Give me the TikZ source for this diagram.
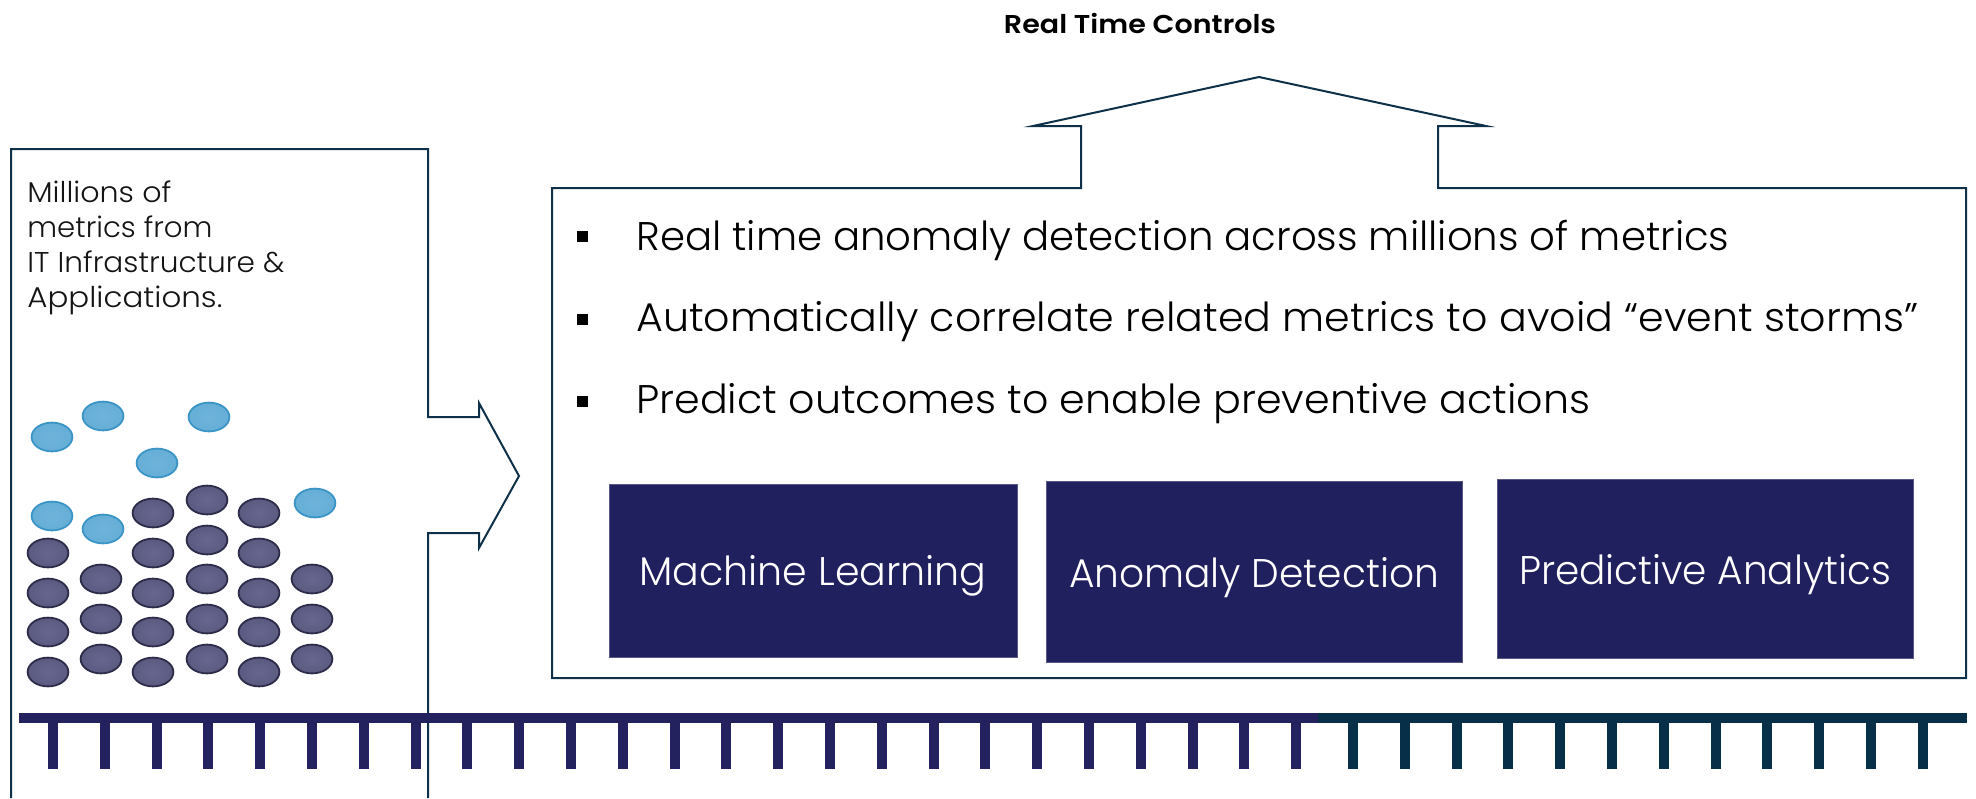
\documentclass[tikz,border=0pt]{standalone}
\usepackage{fontspec}
\IfFontExistsTF{Poppins Light}{\setmainfont{Poppins Light}}{\setmainfont{Poppins}}
\IfFontExistsTF{Poppins SemiBold}{\newfontfamily\titlefont{Poppins SemiBold}}{\newfontfamily\titlefont{Poppins}[UprightFont=*-Bold]}
\usepackage{graphicx}

\definecolor{edge}{HTML}{0E3049}
\definecolor{navy}{HTML}{20205F}
\definecolor{rail}{HTML}{23215E}
\definecolor{railteal}{HTML}{072F47}
\definecolor{dotdark}{HTML}{66668F}
\definecolor{dotdarkrim}{HTML}{2C2C4A}
\definecolor{dotlight}{HTML}{6EB3DA}
\definecolor{dotlightrim}{HTML}{3A94C6}

% width-fitted text: \fitw{width in pt}{text}
\newcommand{\fitw}[2]{\resizebox{#1pt}{\height}{#2}}

\begin{document}
\begin{tikzpicture}[x=0.5pt,y=-0.5pt,
  outline/.style={draw=edge, line width=1pt, line join=miter},
  bluebox/.style={fill=navy, draw=navy!75!white, line width=0.5pt},
  lbl/.style={inner sep=0pt, anchor=base west},
  boxlbl/.style={inner sep=0pt, anchor=base, text=white, font=\fontsize{20pt}{24pt}\selectfont},
  bullettext/.style={lbl, text=black, font=\fontsize{20pt}{24pt}\selectfont},
  sidetext/.style={lbl, text=black!92, font=\fontsize{14.3pt}{17pt}\selectfont},
  darkdot/.style={inner color=dotdark, outer color=dotdark!80!dotdarkrim, draw=dotdarkrim, line width=0.9pt},
  lightdot/.style={inner color=dotlight, outer color=dotlight!85!dotlightrim, draw=dotlightrim, line width=0.9pt},
  sq/.style={fill=black, minimum size=5.5pt, inner sep=0pt}
]
\useasboundingbox (0,0) rectangle (1976,798);

% title over the roof arrow
\node[inner sep=0pt, anchor=base, font=\fontsize{12.9pt}{15pt}\titlefont] (title) at (1140,33) {\fitw{136}{Real Time Controls}};

% main panel with the upward roof arrow on its top edge
\draw[outline] (552,188) -- (1081,188) -- (1081,126) -- (1033,126) -- (1259,77)
  -- (1486,126) -- (1438,126) -- (1438,188) -- (1966,188) -- (1966,678)
  -- (552,678) -- cycle;

% left column with the right-pointing arrow
\draw[outline] (11,798) -- (11,149) -- (428,149) -- (428,417) -- (479,417)
  -- (479,403) -- (519,476) -- (479,548) -- (479,533) -- (428,533) -- (428,798);

% left column text
\node[sidetext] (l1) at (27,202) {\fitw{72}{Millions of}};
\node[sidetext] (l2) at (27,237) {\fitw{92.5}{metrics from}};
\node[sidetext] (l3) at (27,272) {\fitw{128.5}{IT Infrastructure \&}};
\node[sidetext] (l4) at (27,307) {\fitw{97.5}{Applications.}};

% metric dots
\foreach \cx/\cy in {48/553,48/593,48/632,48/672,
                     101/579,101/619,101/659,
                     153/513,153/553,153/593,153/632,153/672,
                     207/500,207/540,207/579,207/619,207/659,
                     259/513,259/553,259/593,259/632,259/672,
                     312/579,312/619,312/659}
  \path[darkdot] (\cx,\cy) ellipse [x radius=10.2pt, y radius=7.2pt];
\foreach \cx/\cy in {52/437,103/416,209/417,157/463,52/516,103/529,315/503}
  \path[lightdot] (\cx,\cy) ellipse [x radius=10.2pt, y radius=7.2pt];

% bullet list
\node[sq] (b1) at (582,236) {};
\node[sq] (b2) at (582,319) {};
\node[sq] (b3) at (582,401) {};
\node[bullettext] (t1) at (636,250) {\fitw{546.5}{Real time anomaly detection across millions of metrics}};
\node[bullettext] (t2) at (636,331) {\fitw{641}{Automatically correlate related metrics to avoid “event storms”}};
\node[bullettext] (t3) at (636,413) {\fitw{477}{Predict outcomes to enable preventive actions}};

% capability boxes
\path[bluebox] (609,484) rectangle (1017,657);
\path[bluebox] (1046,481) rectangle (1462,662);
\path[bluebox] (1497,479) rectangle (1913,658);
\node[boxlbl] (ml) at (813,585) {\fitw{173.5}{Machine Learning}};
\node[boxlbl] (ad) at (1254,587) {\fitw{185}{Anomaly Detection}};
\node[boxlbl] (pa) at (1705,584) {\fitw{186}{Predictive Analytics}};

% toothed rail along the bottom
\fill[rail] (19,713) rectangle (1318,723);
\fill[railteal] (1318,713) rectangle (1967,723);
\foreach \k in {0,...,24}
  \fill[rail] ({48+51.8*\k},721) rectangle +(10,48);
\foreach \k in {0,...,11}
  \fill[railteal] ({1348+51.8*\k},721) rectangle +(10,48);
\end{tikzpicture}
\end{document}
